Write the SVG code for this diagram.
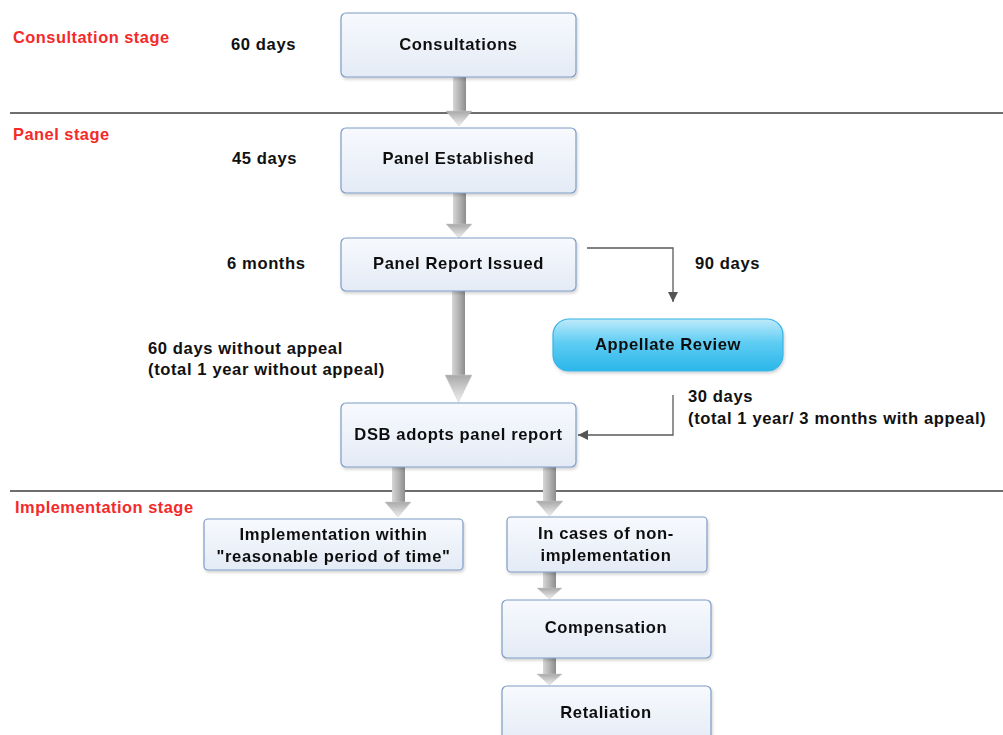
<svg xmlns="http://www.w3.org/2000/svg" width="1003" height="735" viewBox="0 0 1003 735">
<defs>
<linearGradient id="boxg" x1="0" y1="0" x2="0" y2="1">
<stop offset="0" stop-color="#f7f9fd"/><stop offset="1" stop-color="#e4ebf6"/>
</linearGradient>
<linearGradient id="appg" x1="0" y1="0" x2="0" y2="1">
<stop offset="0" stop-color="#bfeafb"/><stop offset="0.45" stop-color="#5fcdf3"/><stop offset="1" stop-color="#2bb6ea"/>
</linearGradient>
<linearGradient id="shaftg" x1="0" y1="0" x2="1" y2="0">
<stop offset="0" stop-color="#d6d6d6"/><stop offset="0.5" stop-color="#b4b4b4"/><stop offset="1" stop-color="#8c8c8c"/>
</linearGradient>
<linearGradient id="headg" x1="0" y1="0" x2="0" y2="1">
<stop offset="0" stop-color="#a8a8a8"/><stop offset="1" stop-color="#f0f0f0"/>
</linearGradient>
<marker id="ah" viewBox="0 0 10 10" refX="10" refY="5" markerWidth="10" markerHeight="10" markerUnits="userSpaceOnUse" orient="auto">
<path d="M0,0 L10,5 L0,10 Z" fill="#555"/>
</marker>
<filter id="sh" x="-10%" y="-10%" width="120%" height="130%">
<feDropShadow dx="1" dy="2" stdDeviation="1.5" flood-color="#000" flood-opacity="0.18"/>
</filter>
</defs>
<style>
.box{fill:url(#boxg);stroke:#7e9cc6;stroke-width:1.2}
.t{font-family:"Liberation Sans",Arial,sans-serif;font-weight:bold;font-size:16.6px;fill:#111;letter-spacing:0.6px}
.c{text-anchor:middle}
.red{font-family:"Liberation Sans",Arial,sans-serif;font-weight:bold;font-size:16.4px;fill:#f42a2a;letter-spacing:0.5px}
.sep{stroke:#6e6e6e;stroke-width:2}
.conn{fill:none;stroke:#5a5a5a;stroke-width:1.3}
.shaft{fill:url(#shaftg)}
.head{fill:url(#headg);stroke:#c8c8c8;stroke-width:0.5}
</style>

<g id="separators">
<line class="sep" x1="10" y1="113" x2="1003" y2="113"/>
<line class="sep" x1="10" y1="491" x2="1003" y2="491"/>
</g>

<g id="stage-labels">
<text class="red" x="13" y="43">Consultation stage</text>
<text class="red" x="13" y="140">Panel stage</text>
<text class="red" x="15" y="513">Implementation stage</text>
</g>

<g id="time-labels">
<text class="t" x="231" y="50">60 days</text>
<text class="t" x="232" y="164">45 days</text>
<text class="t" x="227" y="269">6 months</text>
<text class="t" x="695" y="269">90 days</text>
<text class="t" x="148" y="354">60 days without appeal</text>
<text class="t" x="148" y="375">(total 1 year without appeal)</text>
<text class="t" x="688" y="402">30 days</text>
<text class="t" x="688" y="424">(total 1 year/ 3 months with appeal)</text>
</g>

<g id="connectors">
<g id="block-arrows">
<rect class="shaft" x="453" y="77" width="13" height="36"/>
<path class="head" d="M446,111 L472,111 L459,126 Z"/>
<rect class="shaft" x="453" y="193" width="13" height="33"/>
<path class="head" d="M446,224 L472,224 L459,238 Z"/>
<rect class="shaft" x="452" y="291" width="13" height="85"/>
<path class="head" d="M445,375 L472,375 L458.5,402 Z"/>
<rect class="shaft" x="392" y="467" width="13" height="37"/>
<path class="head" d="M385,502 L411,502 L398,517 Z"/>
<rect class="shaft" x="543" y="467" width="13" height="36"/>
<path class="head" d="M536,501 L563,501 L549.5,516 Z"/>
<rect class="shaft" x="543" y="572" width="13" height="17"/>
<path class="head" d="M537,588 L562,588 L549.5,599 Z"/>
<rect class="shaft" x="543" y="658" width="13" height="17"/>
<path class="head" d="M537,674 L562,674 L549.5,685 Z"/>
</g>
<polyline class="conn" points="587,248 673,248 673,302" marker-end="url(#ah)"/>
<polyline class="conn" points="673,395 673,435 578,435" marker-end="url(#ah)"/>
</g>

<g id="n-consultations" filter="url(#sh)">
<rect class="box" x="341" y="13" width="235" height="64" rx="5"/>
<text class="t c" x="458.5" y="50">Consultations</text>
</g>
<g id="n-panel-established" filter="url(#sh)">
<rect class="box" x="341" y="128" width="235" height="65" rx="5"/>
<text class="t c" x="458.5" y="164">Panel Established</text>
</g>
<g id="n-panel-report" filter="url(#sh)">
<rect class="box" x="341" y="238" width="235" height="53" rx="5"/>
<text class="t c" x="458.5" y="269">Panel Report Issued</text>
</g>
<g id="n-appellate" filter="url(#sh)">
<rect x="553" y="319" width="230" height="52" rx="16" fill="url(#appg)" stroke="#37b3e6" stroke-width="1.2"/>
<text class="t c" x="668" y="350">Appellate Review</text>
</g>
<g id="n-dsb" filter="url(#sh)">
<rect class="box" x="341" y="403" width="235" height="64" rx="5"/>
<text class="t c" x="458.5" y="440">DSB adopts panel report</text>
</g>
<g id="n-implementation" filter="url(#sh)">
<rect class="box" x="204" y="519" width="259" height="51" rx="4"/>
<text class="t c" x="333.5" y="540">Implementation within</text>
<text class="t c" x="333.5" y="562">"reasonable period of time"</text>
</g>
<g id="n-non-implementation" filter="url(#sh)">
<rect class="box" x="507" y="517" width="200" height="55" rx="4"/>
<text class="t c" x="606" y="539">In cases of non-</text>
<text class="t c" x="606" y="561">implementation</text>
</g>
<g id="n-compensation" filter="url(#sh)">
<rect class="box" x="502" y="600" width="209" height="58" rx="5"/>
<text class="t c" x="606" y="633">Compensation</text>
</g>
<g id="n-retaliation" filter="url(#sh)">
<rect class="box" x="502" y="686" width="209" height="60" rx="5"/>
<text class="t c" x="606" y="718">Retaliation</text>
</g>
</svg>
